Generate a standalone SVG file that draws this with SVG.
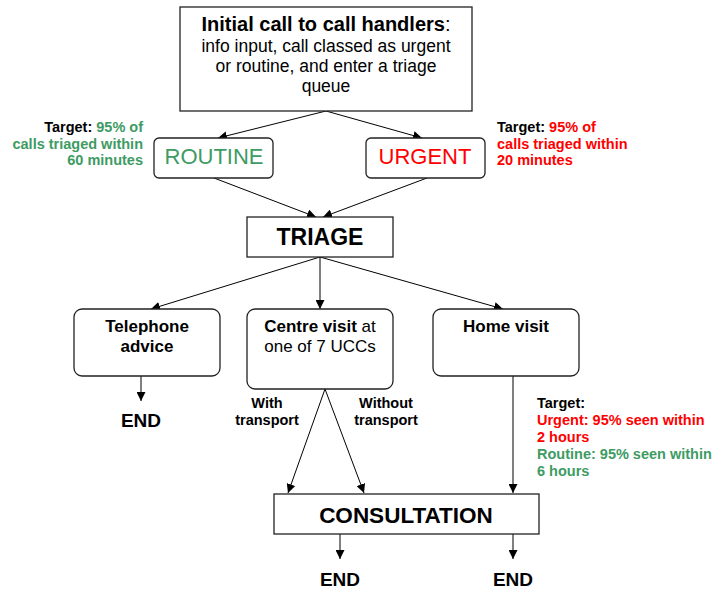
<svg xmlns="http://www.w3.org/2000/svg" width="712" height="590" viewBox="0 0 712 590">
<style>
text{font-family:"Liberation Sans",Arial,sans-serif;fill:#000}
.b{font-weight:bold}
.box{fill:#fff;stroke:#222;stroke-width:1.3}
.ln{stroke:#000;stroke-width:1;fill:none;marker-end:url(#ah)}
.g{fill:#3d9b63}
.r{fill:#ff0000}
.s{font-size:14.5px;font-weight:bold}
</style>
<defs>
<marker id="ah" viewBox="0 0 10 10" refX="10" refY="5" markerWidth="9" markerHeight="9" markerUnits="userSpaceOnUse" orient="auto">
<path d="M0,0 L10,5 L0,10 z" fill="#000"/>
</marker>
</defs>
<g id="connectors">
<line class="ln" x1="326" y1="111" x2="218" y2="138"/>
<line class="ln" x1="326" y1="111" x2="422" y2="138"/>
<line class="ln" x1="214" y1="178" x2="316" y2="217"/>
<line class="ln" x1="427" y1="178" x2="323" y2="217"/>
<line class="ln" x1="320" y1="257" x2="151" y2="309"/>
<line class="ln" x1="320" y1="257" x2="320" y2="309"/>
<line class="ln" x1="320" y1="257" x2="503" y2="309"/>
<line class="ln" x1="141" y1="376" x2="141" y2="401"/>
<line class="ln" x1="325" y1="389" x2="288" y2="493"/>
<line class="ln" x1="325" y1="389" x2="364" y2="493"/>
<line class="ln" x1="513" y1="376" x2="513" y2="493"/>
<line class="ln" x1="340" y1="534" x2="340" y2="559"/>
<line class="ln" x1="513" y1="534" x2="513" y2="559"/>
</g>
<g id="initial">
<rect class="box" x="180" y="7" width="292" height="104"/>
<text x="326" y="31" text-anchor="middle" font-size="20"><tspan class="b">Initial call to call handlers</tspan>:</text>
<text x="326" y="52" text-anchor="middle" font-size="17.5">info input, call classed as urgent</text>
<text x="326" y="72" text-anchor="middle" font-size="17.5">or routine, and enter a triage</text>
<text x="326" y="92" text-anchor="middle" font-size="17.5">queue</text>
</g>
<g id="routine">
<rect class="box" x="154" y="138" width="119" height="40" rx="5"/>
<text x="214" y="164" text-anchor="middle" font-size="22" class="g">ROUTINE</text>
</g>
<g id="routine-target">
<text class="s" x="143" y="132" text-anchor="end">Target: <tspan class="g">95% of</tspan></text>
<text class="s g" x="143" y="148.5" text-anchor="end">calls triaged within</text>
<text class="s g" x="143" y="165" text-anchor="end">60 minutes</text>
</g>
<g id="urgent">
<rect class="box" x="366" y="138" width="119" height="40" rx="5"/>
<text x="425" y="164" text-anchor="middle" font-size="22" class="r">URGENT</text>
</g>
<g id="urgent-target">
<text class="s" x="497" y="132">Target: <tspan class="r">95% of</tspan></text>
<text class="s r" x="497" y="148.5">calls triaged within</text>
<text class="s r" x="497" y="165">20 minutes</text>
</g>
<g id="triage">
<rect class="box" x="247" y="217" width="146" height="40"/>
<text x="320" y="245" text-anchor="middle" font-size="23" class="b">TRIAGE</text>
</g>
<g id="telephone">
<rect class="box" x="74" y="309" width="146" height="67" rx="8"/>
<text x="147" y="332" text-anchor="middle" font-size="17" class="b">Telephone</text>
<text x="147" y="352" text-anchor="middle" font-size="17" class="b">advice</text>
</g>
<g id="end1">
<text x="141" y="427" text-anchor="middle" font-size="19" class="b">END</text>
</g>
<g id="centre">
<rect class="box" x="247" y="309" width="146" height="80" rx="8"/>
<text x="320" y="332" text-anchor="middle" font-size="17"><tspan class="b">Centre visit</tspan> at</text>
<text x="320" y="352" text-anchor="middle" font-size="17">one of 7 UCCs</text>
</g>
<g id="transport-labels">
<text class="s" x="267" y="408" text-anchor="middle">With</text>
<text class="s" x="267" y="425" text-anchor="middle">transport</text>
<text class="s" x="386" y="408" text-anchor="middle">Without</text>
<text class="s" x="386" y="425" text-anchor="middle">transport</text>
</g>
<g id="home">
<rect class="box" x="433" y="309" width="146" height="67" rx="8"/>
<text x="506" y="332" text-anchor="middle" font-size="17" class="b">Home visit</text>
</g>
<g id="home-target">
<text class="s" x="537" y="408">Target:</text>
<text class="s r" x="537" y="425">Urgent: 95% seen within</text>
<text class="s r" x="537" y="442">2 hours</text>
<text class="s g" x="537" y="459">Routine: 95% seen within</text>
<text class="s g" x="537" y="476">6 hours</text>
</g>
<g id="consultation">
<rect class="box" x="274" y="494" width="265" height="40"/>
<text x="406" y="523" text-anchor="middle" font-size="22.5" class="b">CONSULTATION</text>
</g>
<g id="end2">
<text x="340" y="586" text-anchor="middle" font-size="19" class="b">END</text>
</g>
<g id="end3">
<text x="513" y="586" text-anchor="middle" font-size="19" class="b">END</text>
</g>
</svg>
